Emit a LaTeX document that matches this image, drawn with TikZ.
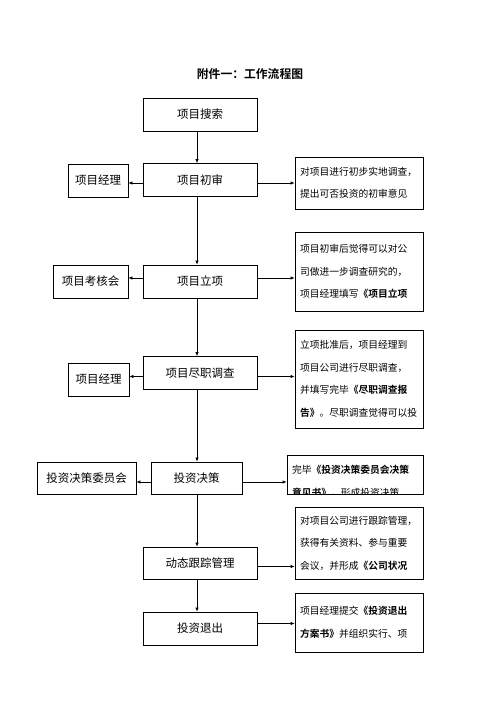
\documentclass[tikz,border=0pt]{standalone}
\usepackage{fontspec}
\setmainfont{Noto Sans CJK SC}[BoldFont={Noto Sans CJK SC Bold}]
\usetikzlibrary{arrows.meta}

\begin{document}
\begin{tikzpicture}[x=1pt, y=-1pt,
    box/.style={draw, line width=0.7pt, inner sep=0pt, minimum height=33pt, font=\fontsize{11.5}{14}\selectfont},
    note/.style={draw, line width=0.7pt, inner sep=0pt, minimum width=128pt, text width=118pt, align=left, font=\fontsize{9.75}{22.5}\selectfont},
    arr/.style={line width=0.7pt, -{Latex[length=4pt, width=3.5pt]}}]
    \useasboundingbox (0,0) rectangle (500,707);
    \node[font=\fontsize{11.8}{14}\selectfont\bfseries] (title) at (250,74) {附件一：工作流程图};
    \coordinate (spine) at (197,0);

    % Hauptschritte
    \node[box, minimum width=114pt] (s1) at (200,114.5) {项目搜索};
    \node[box, minimum width=114pt] (s2) at (200,180) {项目初审};
    \node[box, minimum width=114pt] (s3) at (200,281.5) {项目立项};
    \node[box, minimum width=114pt] (s4) at (200,373) {项目尽职调查};
    \node[box, minimum width=91pt, minimum height=32pt] (s5) at (196.5,478) {投资决策};
    \node[box, minimum width=114pt, minimum height=32pt] (s6) at (200,563) {动态跟踪管理};
    \node[box, minimum width=114pt] (s7) at (200,628.5) {投资退出};

    % Zuständige
    \node[box, minimum width=60pt] (l2) at (98,180.5) {项目经理};
    \node[box, minimum width=75pt] (l3) at (90.5,281.5) {项目考核会};
    \node[box, minimum width=61pt] (l4) at (98.5,379.5) {项目经理};
    \node[box, minimum width=99pt, minimum height=32pt] (l5) at (86.5,478) {投资决策委员会};

    % Erläuterungen
    \node[note, minimum height=52pt] (r2) at (359,183) {对项目进行初步实地调查，\\提出可否投资的初审意见};
    \node[note, minimum height=79pt] (r3) at (359,271.5) {项目初审后觉得可以对公\\司做进一步调查研究的，\\项目经理填写\textbf{《项目立项}};
    \node[note, minimum height=98pt] (r4) at (359,379) {立项批准后，项目经理到\\项目公司进行尽职调查，\\并填写完毕\textbf{《尽职调查报}\\\textbf{告》}。尽职调查觉得可以投};
    \node[draw, line width=0.7pt, minimum width=136pt, minimum height=39pt, inner sep=0pt] (r5) at (355,474.5) {};
    \begin{scope}
        \clip (r5.north west) rectangle (r5.south east);
        \node[note, draw=none, text width=126pt] (r5t) at (355,481.5) {完毕\textbf{《投资决策委员会决策}\\\textbf{意见书》}，形成投资决策};
    \end{scope}
    \node[note, minimum height=72pt] (r6) at (359,543) {对项目公司进行跟踪管理，\\获得有关资料、参与重要\\会议，并形成\textbf{《公司状况}};
    \node[note, minimum height=59pt] (r7) at (359,622.5) {项目经理提交\textbf{《投资退出}\\\textbf{方案书》}并组织实行、项};

    % Hauptlinie
    \draw[arr] (s1.south -| spine) -- (s2.north -| spine);
    \draw[arr] (s2.south -| spine) -- (s3.north -| spine);
    \draw[arr] (s3.south -| spine) -- (s4.north -| spine);
    \draw[arr] (s4.south -| spine) -- (s5.north -| spine);
    \draw[arr] (s5.south -| spine) -- (s6.north -| spine);
    \draw[arr] (s6.south -| spine) -- (s7.north -| spine);

    % nach links
    \draw[arr] (s2.west |- 0,183) -- (l2.east |- 0,183);
    \draw[arr] (s3.west |- 0,278) -- (l3.east |- 0,278);
    \draw[arr] (s4.west |- 0,376.5) -- (l4.east |- 0,376.5);
    \draw[arr] (s5.west |- 0,482) -- (l5.east |- 0,482);

    % nach rechts
    \draw[arr] (s2.east |- 0,183) -- (r2.west |- 0,183);
    \draw[arr] (s3.east |- 0,278) -- (r3.west |- 0,278);
    \draw[arr] (s4.east |- 0,376.5) -- (r4.west |- 0,376.5);
    \draw[arr] (s5.east |- 0,482) -- (r5.west |- 0,482);
    \draw[arr] (s6.east |- 0,566.5) -- (r6.west |- 0,566.5);
    \draw[arr] (s7.east |- 0,623.5) -- (r7.west |- 0,623.5);
\end{tikzpicture}
\end{document}
